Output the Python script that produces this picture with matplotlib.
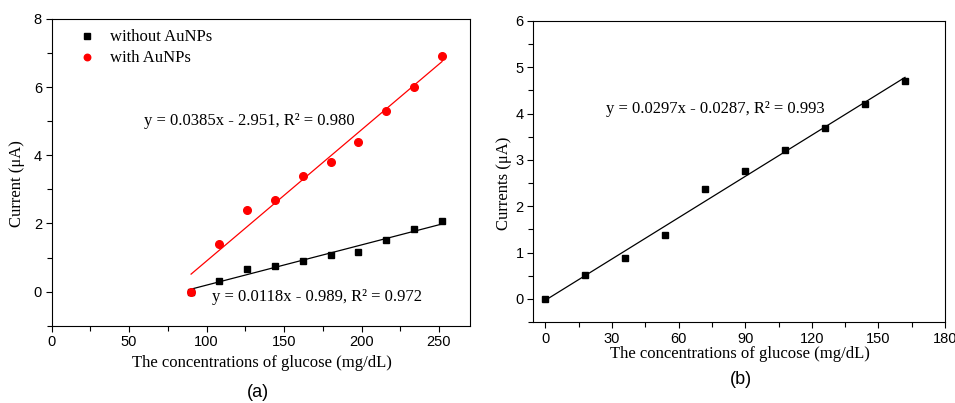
import numpy as np
import matplotlib
matplotlib.use("Agg")
import matplotlib.pyplot as plt
from matplotlib.ticker import MultipleLocator

# panel (a) data
conc_a = [90, 108, 126, 144, 162, 180, 198, 216, 234, 252]
without_aunps = [0.0, 0.31, 0.67, 0.74, 0.91, 1.06, 1.15, 1.52, 1.84, 2.07]
with_aunps = [0.0, 1.40, 2.40, 2.70, 3.40, 3.80, 4.39, 5.30, 5.99, 6.90]
fit_without = (0.0118, -0.989)
fit_with = (0.0385, -2.951)

# panel (b) data
conc_b = [0, 18, 36, 54, 72, 90, 108, 126, 144, 162]
currents_b = [0.0, 0.52, 0.885, 1.37, 2.37, 2.75, 3.21, 3.70, 4.21, 4.71]
fit_b = (0.0297, -0.0287)

serif = "Liberation Serif"
sans = "Liberation Sans"

fig = plt.figure(figsize=(9.55, 4.03), dpi=100)
ax1 = fig.add_axes([0.0541, 0.1918, 0.4380, 0.7611])
ax2 = fig.add_axes([0.5584, 0.2010, 0.4311, 0.7469])


def style_axes(ax):
    for s in ax.spines.values():
        s.set_linewidth(0.8)
    ax.tick_params(which="both", direction="out", width=0.8, labelsize=10.5, pad=2.5)
    ax.tick_params(which="major", length=4.5)
    ax.tick_params(which="minor", length=3.5)
    for lab in ax.get_xticklabels() + ax.get_yticklabels():
        lab.set_fontfamily(sans)


# (a)
xa = np.array(conc_a)
ax1.plot(xa, np.polyval(fit_without, xa), color="black", lw=0.9)
ax1.plot(xa, np.polyval(fit_with, xa), color="red", lw=0.9)
ax1.plot(conc_a, without_aunps, "s", color="black", ms=5, label="without AuNPs")
ax1.plot(conc_a, with_aunps, "o", color="red", ms=5.5, label="with AuNPs")
ax1.set_xlim(0, 270)
ax1.set_ylim(-1, 8)
ax1.xaxis.set_major_locator(MultipleLocator(50))
ax1.xaxis.set_minor_locator(MultipleLocator(25))
ax1.yaxis.set_major_locator(MultipleLocator(2))
ax1.yaxis.set_minor_locator(MultipleLocator(1))
style_axes(ax1)
ax1.set_xlabel("The concentrations of glucose (mg/dL)", family=serif, fontsize=12)
ax1.set_ylabel("Current (μA)", family=serif, fontsize=12)
ax1.xaxis.set_label_coords(0.503, -0.097)
ax1.yaxis.set_label_coords(-0.064, 0.462)
ax1.text(59.5, 5.02, "y = 0.0385x - 2.951, R² = 0.980", family=serif, fontsize=12, va="center")
ax1.text(103.8, -0.16, "y = 0.0118x - 0.989, R² = 0.972", family=serif, fontsize=12, va="center")
leg = ax1.legend(loc="upper left", bbox_to_anchor=(0.025, 1.015), frameon=False,
                 prop={"family": serif, "size": 12}, handletextpad=0.8,
                 markerscale=0.85, labelspacing=0.3, handlelength=1.2)
fig.text(0.270, 0.027, "(a)", family=sans, fontsize=13, ha="center", va="center")

# (b)
xb = np.array(conc_b)
ax2.plot(xb, np.polyval(fit_b, xb), color="black", lw=0.9)
ax2.plot(conc_b, currents_b, "s", color="black", ms=5)
ax2.set_xlim(-5.5, 180)
ax2.set_ylim(-0.5, 6)
ax2.xaxis.set_major_locator(MultipleLocator(30))
ax2.xaxis.set_minor_locator(MultipleLocator(15))
ax2.yaxis.set_major_locator(MultipleLocator(1))
ax2.yaxis.set_minor_locator(MultipleLocator(0.5))
style_axes(ax2)
ax2.set_xlabel("The concentrations of glucose (mg/dL)", family=serif, fontsize=12)
ax2.set_ylabel("Currents (μA)", family=serif, fontsize=12)
ax2.xaxis.set_label_coords(0.502, -0.079)
ax2.yaxis.set_label_coords(-0.052, 0.462)
ax2.text(27.2, 4.10, "y = 0.0297x - 0.0287, R² = 0.993", family=serif, fontsize=12, va="center")
fig.text(0.776, 0.058, "(b)", family=sans, fontsize=13, ha="center", va="center")

fig.savefig("out.png", dpi=100)
